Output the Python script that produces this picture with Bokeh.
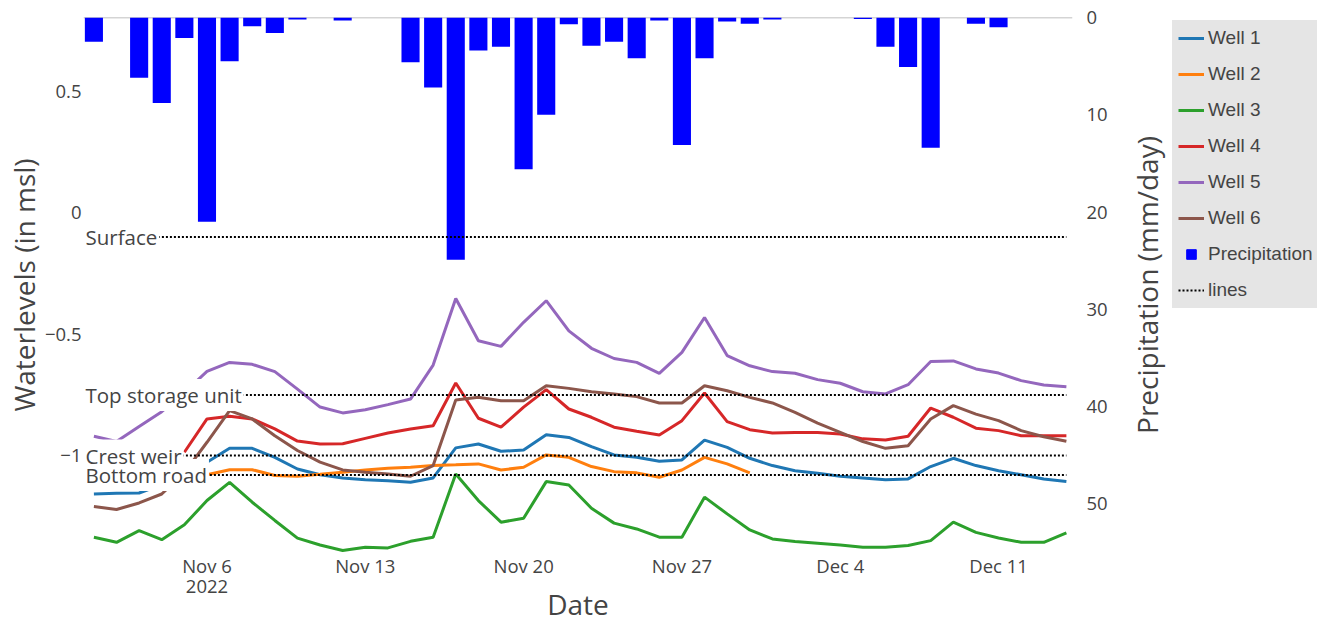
import pandas as pd
from bokeh.plotting import figure
from bokeh.layouts import row
from bokeh.models import Range1d, LinearAxis, FixedTicker, Legend, LegendItem
from bokeh.core.properties import value
from bokeh.embed import file_html
from bokeh.resources import INLINE

nan = float("nan")

# ---------------- data ----------------
dates = pd.date_range("2022-11-01", "2022-12-14", freq="D")

precipitation = [2.5, 0, 6.2, 8.8, 2.1, 21.0, 4.5, 0.9, 1.6, 0.2, 0, 0.3, 0, 0,
                 4.6, 7.2, 24.9, 3.4, 3.0, 15.6, 10.0, 0.7, 2.9, 2.5, 4.2, 0.3,
                 13.1, 4.2, 0.4, 0.65, 0.2, 0, 0, 0, 0.15, 3.0, 5.1, 13.4, 0,
                 0.65, 1.0, 0, 0, 0]

well_1 = [-1.158, -1.155, -1.154, -1.119, -1.082, -1.027, -0.97, -0.97, -1.007, -1.055, -1.079,
          -1.092, -1.099, -1.103, -1.11, -1.092, -0.968, -0.952, -0.982, -0.977, -0.914, -0.925,
          -0.963, -0.997, -1.007, -1.023, -1.018, -0.936, -0.966, -1.011, -1.041, -1.062, -1.073,
          -1.085, -1.092, -1.099, -1.096, -1.045, -1.011, -1.041, -1.062, -1.079, -1.096, -1.107]

well_2 = [nan, nan, nan, nan, nan, -1.079, -1.058, -1.058, -1.082, -1.085, -1.077,
          -1.068, -1.059, -1.052, -1.048, -1.041, -1.038, -1.034, -1.059, -1.048, -0.997, -1.007,
          -1.045, -1.066, -1.071, -1.089, -1.059, -1.007, -1.034, -1.071, nan, nan, nan,
          nan, nan, nan, nan, nan, nan, nan, nan, nan, nan, nan]

well_3 = [-1.336, -1.357, -1.309, -1.346, -1.285, -1.185, -1.11, -1.192, -1.267, -1.34, -1.368,
          -1.391, -1.377, -1.38, -1.353, -1.336, -1.076, -1.185, -1.274, -1.258, -1.107, -1.121,
          -1.217, -1.278, -1.302, -1.336, -1.336, -1.171, -1.24, -1.306, -1.343, -1.354, -1.361,
          -1.368, -1.377, -1.377, -1.37, -1.35, -1.274, -1.316, -1.339, -1.357, -1.357, -1.318]

well_4 = [nan, nan, nan, nan, -0.986, -0.849, -0.838, -0.849, -0.89, -0.94, -0.952,
          -0.951, -0.929, -0.907, -0.89, -0.877, -0.701, -0.846, -0.883, -0.80, -0.728, -0.808,
          -0.842, -0.883, -0.90, -0.915, -0.856, -0.742, -0.86, -0.893, -0.907, -0.905, -0.905,
          -0.911, -0.931, -0.936, -0.92, -0.804, -0.842, -0.887, -0.897, -0.918, -0.918, -0.918]

well_5 = [-0.92, -0.942, -0.88, -0.819, -0.74, -0.653, -0.616, -0.624, -0.654, -0.726, -0.80,
          -0.824, -0.811, -0.79, -0.767, -0.627, -0.353, -0.527, -0.55, -0.451, -0.362, -0.486,
          -0.558, -0.60, -0.616, -0.661, -0.575, -0.431, -0.588, -0.63, -0.654, -0.661, -0.687,
          -0.702, -0.737, -0.746, -0.708, -0.612, -0.61, -0.643, -0.66, -0.691, -0.709, -0.716]

well_6 = [-1.21, -1.222, -1.195, -1.158, -1.07, -0.945, -0.815, -0.849, -0.918, -0.979, -1.027,
          -1.059, -1.068, -1.076, -1.085, -1.041, -0.771, -0.76, -0.774, -0.774, -0.712, -0.723,
          -0.737, -0.746, -0.757, -0.783, -0.783, -0.712, -0.733, -0.76, -0.783, -0.822, -0.866,
          -0.904, -0.942, -0.97, -0.959, -0.849, -0.794, -0.829, -0.856, -0.897, -0.922, -0.941]

well_names = ["Well 1", "Well 2", "Well 3", "Well 4", "Well 5", "Well 6"]
well_colors = ["#1f77b4", "#ff7f0e", "#2ca02c", "#d62728", "#9467bd", "#8c564b"]

level_names = ["Surface", "Top storage unit", "Crest weir", "Bottom road"]
level_values = [-0.1, -0.75, -1.0, -1.08]

tick_dates = ["2022-11-06", "2022-11-13", "2022-11-20", "2022-11-27", "2022-12-04", "2022-12-11"]
tick_labels = ["Nov 6\n2022", "Nov 13", "Nov 20", "Nov 27", "Dec 4", "Dec 11"]
left_ticks = [-1.0, -0.5, 0.0, 0.5]
left_tick_labels = ["\u22121", "\u22120.5", "0", "0.5"]
right_ticks = [0, 10, 20, 30, 40, 50]

# ---------------- main figure ----------------
day = [int(d) for d in (dates - dates[0]).days]
tick_pos = [int(d) for d in (pd.to_datetime(tick_dates) - dates[0]).days]

X0, X1 = -0.46, 43.27
p = figure(width=1110, height=628, x_range=Range1d(X0, X1), y_range=Range1d(-1.399, 0.8045),
           output_backend="svg", toolbar_location=None,
           min_border_left=83, min_border_right=30, min_border_top=17, min_border_bottom=76)
p.extra_y_ranges = {"precip": Range1d(55.0, 0)}
p.xgrid.visible = False
p.ygrid.visible = False
p.outline_line_color = None
p.background_fill_color = "white"

p.hspan(y=[0], y_range_name="precip", line_color="#aaaaaa", line_width=1.5)

bars = p.vbar(x=day, width=0.8, top=0, bottom=precipitation, y_range_name="precip",
              fill_color="#0000ff", line_color=None)

well_series = [well_1, well_2, well_3, well_4, well_5, well_6]
for name, vals, col in zip(well_names, well_series, well_colors):
    p.line(x=day, y=vals, line_color=col, line_width=3)

p.segment(x0=[day[0]] * len(level_values), x1=[day[-1]] * len(level_values),
          y0=level_values, y1=level_values, line_color="black",
          line_width=2, line_dash="2 2")

label_kw = dict(x=[X0] * len(level_values), y=level_values, text=level_names,
                text_align="left", text_baseline="middle", text_font=value("Open Sans"),
                text_font_size="20.5px", padding=2)
# white boxes behind the level labels, then the label texts on top
p.text(**label_kw, text_color="#444444", text_alpha=0.0,
       background_fill_color="white")
p.text(**label_kw, text_color="#444444")

def style(ax):
    ax.axis_line_color = None
    ax.major_tick_line_color = None
    ax.minor_tick_line_color = None
    ax.major_label_text_font = "Open Sans"
    ax.major_label_text_font_size = "18.5px"
    ax.major_label_text_color = "#444444"
    ax.axis_label_text_font = "Open Sans"
    ax.axis_label_text_font_size = "28px"
    ax.axis_label_text_font_style = "normal"
    ax.axis_label_text_color = "#444444"

xa = p.xaxis[0]
style(xa)
xa.ticker = FixedTicker(ticks=tick_pos)
xa.major_label_overrides = {t: l for t, l in zip(tick_pos, tick_labels)}
xa.axis_label = "Date"
xa.major_label_standoff = -6
xa.major_label_text_line_height = 0.82
xa.axis_label_standoff = -16
xa.axis_label_text_line_height = 0.8

ya = p.yaxis[0]
style(ya)
ya.ticker = FixedTicker(ticks=left_ticks)
ya.major_label_overrides = {t: l for t, l in zip(left_ticks, left_tick_labels)}
ya.axis_label = "Waterlevels (in msl)"
ya.major_label_standoff = -4
ya.axis_label_standoff = -1

ya2 = LinearAxis(y_range_name="precip", ticker=FixedTicker(ticks=right_ticks))
style(ya2)
ya2.major_label_standoff = 8
p.add_layout(ya2, "right")

# ---------------- side panel: precipitation axis title + legend ----------------
p2 = figure(width=207, height=628, x_range=Range1d(0, 1), y_range=Range1d(0, 1),
            output_backend="svg", toolbar_location=None,
            min_border_left=59, min_border_right=0, min_border_top=17, min_border_bottom=76)
p2.xgrid.visible = False
p2.ygrid.visible = False
p2.outline_line_color = None
p2.xaxis.visible = False
ya3 = p2.yaxis[0]
style(ya3)
ya3.ticker = FixedTicker(ticks=[])
ya3.major_label_standoff = 0
ya3.major_tick_out = 0
ya3.axis_label = "Precipitation (mm/day)"
ya3.axis_label_standoff = 4

proxies = [p2.line(x=[nan], y=[nan], line_color=c, line_width=3) for c in well_colors]
proxy_sq = p2.scatter(x=[nan], y=[nan], marker="square", size=10,
                      fill_color="#0000ff", line_color="#0000ff")
proxy_dot = p2.line(x=[nan], y=[nan], line_color="black", line_width=2, line_dash="2 2")

items = [LegendItem(label=n, renderers=[r]) for n, r in zip(well_names, proxies)]
items.append(LegendItem(label="Precipitation", renderers=[proxy_sq]))
items.append(LegendItem(label="lines", renderers=[proxy_dot]))
legend = Legend(items=items, location="top_left", background_fill_color="#e5e5e5",
                background_fill_alpha=1.0,
                border_line_color="#e5e5e5", border_line_width=6, border_line_alpha=1.0,
                label_text_font="Liberation Sans", label_text_font_size="19px",
                label_text_color="#444444", glyph_width=26, glyph_height=24,
                label_height=24, spacing=12, padding=0, margin=3, label_standoff=4)
p2.add_layout(legend, "center")

layout = row(p, p2, spacing=0)
open("out.html", "w").write(file_html(layout, INLINE))
